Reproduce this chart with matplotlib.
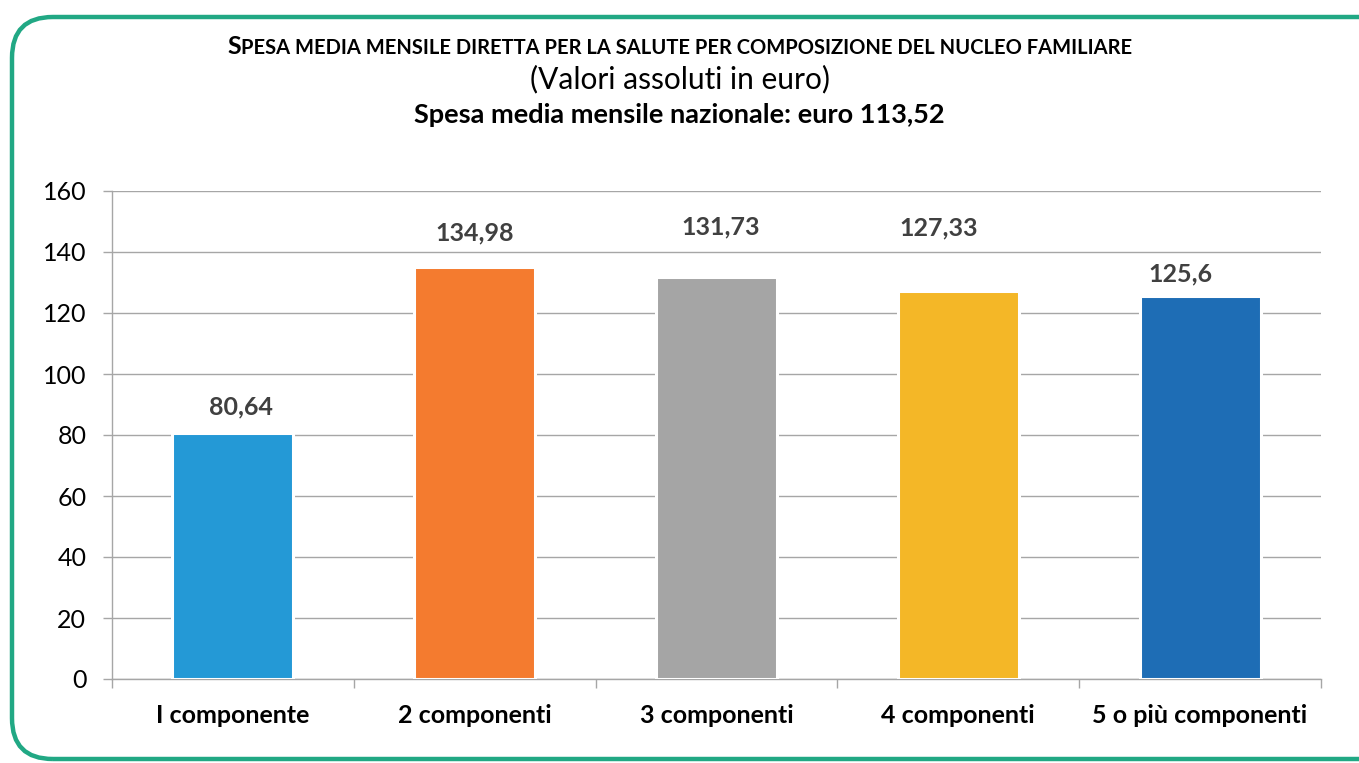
import matplotlib
matplotlib.use("Agg")
import matplotlib.pyplot as plt
from matplotlib.patches import FancyBboxPatch

categories = ["I componente", "2 componenti", "3 componenti", "4 componenti", "5 o più componenti"]
values = [80.64, 134.98, 131.73, 127.33, 125.6]
value_labels = ["80,64", "134,98", "131,73", "127,33", "125,6"]
colors = ["#2499D6", "#F47B2F", "#A5A5A5", "#F4B727", "#1E6DB5"]
yticks = [0, 20, 40, 60, 80, 100, 120, 140, 160]

title = "SPESA MEDIA MENSILE DIRETTA PER LA SALUTE PER COMPOSIZIONE DEL NUCLEO FAMILIARE"
subtitle = "(Valori assoluti in euro)"
subtitle2 = "Spesa media mensile nazionale: euro 113,52"

FONT = "Lato"
plt.rcParams["font.family"] = [FONT, "DejaVu Sans"]

W, H = 1359, 763
fig = plt.figure(figsize=(W / 100, H / 100), dpi=100)
fig.patch.set_facecolor("white")

# green rounded frame
frame = FancyBboxPatch((12 / W, 4 / H), (W + 40) / W, (H - 17 - 4) / H,
                       boxstyle="round,pad=0,rounding_size=0.03",
                       transform=fig.transFigure, facecolor="none",
                       edgecolor="#21A884", linewidth=3.2, clip_on=False,
                       mutation_aspect=W / H)
fig.patches.append(frame)

ax = fig.add_axes([112 / W, 1 - 679 / H, (1321 - 112) / W, (679 - 191) / H])
x = list(range(len(categories)))
ax.bar(x, values, width=0.5, color=colors, edgecolor="white", linewidth=2.2, zorder=3)
ax.set_xlim(-0.5, len(categories) - 0.5)
ax.set_ylim(0, 160)
ax.set_yticks(yticks)
ax.set_yticklabels([str(t) for t in yticks], fontsize=18, color="black")
ax.yaxis.grid(True, color="#A6A6A6", linewidth=1, zorder=0)
ax.set_axisbelow(True)
ax.set_xticks(x)
ax.set_xticklabels(categories, fontsize=18, fontweight="bold", color="black")
ax.tick_params(axis="x", length=0, pad=18)
ax.tick_params(axis="y", length=6.5, color="#A6A6A6", width=1, pad=12)
# category boundary ticks
ax.set_xticks([i - 0.5 for i in range(len(categories) + 1)], minor=True)
ax.tick_params(axis="x", which="minor", length=6.5, color="#A6A6A6", width=1)
for s in ["top", "right"]:
    ax.spines[s].set_visible(False)
for s in ["left", "bottom"]:
    ax.spines[s].set_color("#A6A6A6")
    ax.spines[s].set_linewidth(1)

# value labels (manually offset as in original, in pixels)
label_dx = [8, 0, 4, -20, -20]
label_dy = [26, 34, 50, 63, 22]
for xi, v, lab, dx, dy in zip(x, values, value_labels, label_dx, label_dy):
    ax.annotate(lab, (xi, v), xytext=(dx * 0.72, dy * 0.72), textcoords="offset points",
                ha="center", va="center", fontsize=18, fontweight="bold", color="#404040")

# small-caps title: first letter large, rest smaller capitals
renderer = fig.canvas.get_renderer()
big, small = 18, 14.5
pieces = [(title[0], big), (title[1:], small)]
texts = []
xpos = 0.0
for s, fs in pieces:
    t = fig.text(xpos, 1 - 54 / H, s, fontsize=fs, fontweight="bold", ha="left", va="baseline",
                 color="black")
    bb = t.get_window_extent(renderer)
    texts.append((t, xpos))
    xpos += bb.width / W
total = xpos
start = 0.5 - total / 2
for t, xp in texts:
    t.set_x(start + xp)

fig.text(0.5, 1 - 79 / H, subtitle, fontsize=21.5, ha="center", va="center")
fig.text(0.5, 1 - 115 / H, subtitle2, fontsize=19.5, fontweight="bold", ha="center", va="center")

fig.savefig("out.png", dpi=100)
